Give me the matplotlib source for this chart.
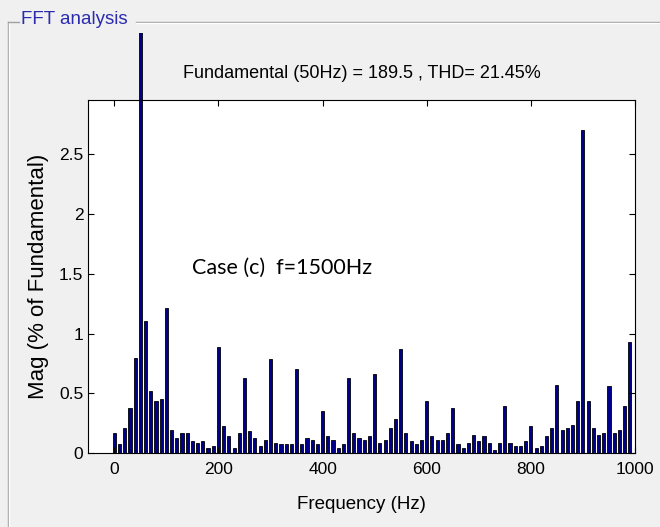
import numpy as np
import matplotlib.pyplot as plt
from matplotlib.patches import Rectangle
from matplotlib.lines import Line2D

# FFT spectrum, bars every 10 Hz (0 ... 990 Hz), magnitude in % of fundamental
freqs = np.arange(0, 1000, 10)
mags = [
    0.17, 0.074, 0.21, 0.38, 0.80, 100.0, 1.107, 0.52, 0.434, 0.453,
    1.21, 0.198, 0.126, 0.17, 0.17, 0.10, 0.085, 0.10, 0.044, 0.058,
    0.885, 0.225, 0.143, 0.044, 0.17, 0.63, 0.184, 0.126, 0.058, 0.113,
    0.786, 0.085, 0.074, 0.074, 0.074, 0.70, 0.074, 0.126, 0.113, 0.074,
    0.352, 0.143, 0.113, 0.044, 0.074, 0.632, 0.17, 0.126, 0.113, 0.143,
    0.66, 0.085, 0.113, 0.21, 0.283, 0.87, 0.17, 0.10, 0.074, 0.113,
    0.434, 0.143, 0.113, 0.113, 0.17, 0.38, 0.074, 0.044, 0.085, 0.157,
    0.10, 0.143, 0.085, 0.03, 0.085, 0.393, 0.085, 0.058, 0.058, 0.10,
    0.225, 0.044, 0.058, 0.143, 0.21, 0.574, 0.198, 0.21, 0.24, 0.434,
    2.70, 0.434, 0.21, 0.157, 0.17, 0.56, 0.17, 0.198, 0.393, 0.926,
]
xticks = [0, 200, 400, 600, 800, 1000]
yticks = [0, 0.5, 1, 1.5, 2, 2.5]

title = 'Fundamental (50Hz) = 189.5 , THD= 21.45%'
note = 'Case (c)  f=1500Hz'

plt.rcParams['font.family'] = ['Liberation Sans', 'DejaVu Sans']

fig = plt.figure(figsize=(6.6, 5.27), dpi=100, facecolor='#f0f0f0')
ax = fig.add_axes([0.1338, 0.1398, 0.8283, 0.6704])
ax.set_facecolor('white')

bars = ax.bar(freqs, mags, width=6, color='#00008f', edgecolor='black',
              linewidth=0.6)
# the fundamental runs out of the axes, up to just below the panel border
clip = Rectangle((0, 0), 1, 0.937, transform=fig.transFigure)
for b in bars:
    b.set_clip_path(clip)

ax.set_xlim(-50, 1000)
ax.set_ylim(0, 2.95)
ax.set_xticks(xticks)
ax.set_yticks(yticks)
ax.set_yticklabels(['0', '0.5', '1', '1.5', '2', '2.5'])
ax.tick_params(direction='in', top=True, right=True, length=4,
               labelsize=12.5, width=0.8)
ax.tick_params(axis='x', pad=6)
for s in ax.spines.values():
    s.set_linewidth(0.8)

ax.set_title(title, fontsize=13, pad=16)
ax.set_xlabel('Frequency (Hz)', fontsize=13.5, labelpad=14)
ax.set_ylabel('Mag (% of Fundamental)', fontsize=16, labelpad=7)
ax.text(0.19, 0.524, note, transform=ax.transAxes, fontsize=15.5,
        family=['Lato', 'DejaVu Sans'], va='center')

# group box frame around the plot
W, H = 660, 527
def fx(px):
    return px / W
def fy(py):
    return 1 - py / H
gray = '#a0a0a0'
fig.add_artist(Line2D([fx(7.5), fx(7.5)], [fy(22), 0], color=gray, lw=1))
fig.add_artist(Line2D([fx(8.5), fx(8.5)], [fy(23), 0], color='white', lw=1))
fig.add_artist(Line2D([fx(7.5), fx(19)], [fy(22), fy(22)], color=gray, lw=1))
fig.add_artist(Line2D([fx(136), 1], [fy(22), fy(22)], color=gray, lw=1))
fig.add_artist(Line2D([fx(136), 1], [fy(23), fy(23)], color='white', lw=1))
fig.text(fx(21), fy(20), 'FFT analysis', color='#2b2bb0', fontsize=13.5,
         va='center', ha='left')

plt.savefig('out.png', dpi=100, facecolor=fig.get_facecolor())
